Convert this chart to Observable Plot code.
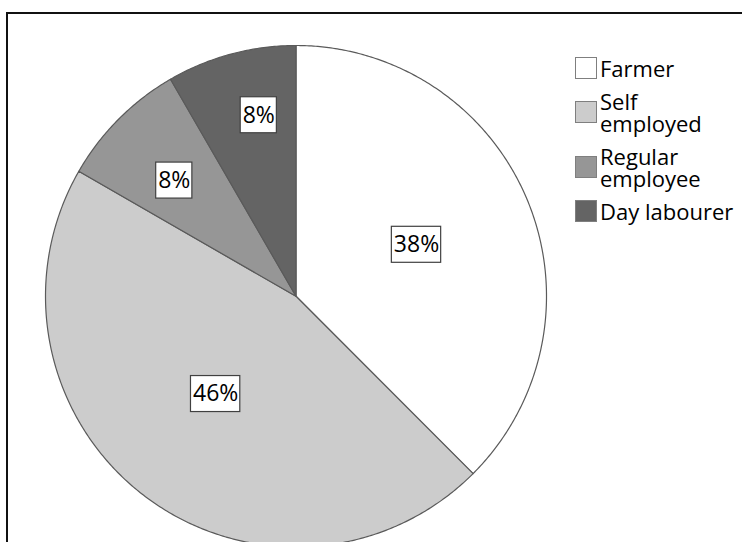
<!DOCTYPE html>
<html><head><meta charset="utf-8">
<script src="https://cdn.jsdelivr.net/npm/d3@7"></script>
<script src="https://cdn.jsdelivr.net/npm/@observablehq/plot@0.6"></script>
<style>
body{margin:0;background:#fff;}
#wrap{position:relative;width:742px;height:542px;overflow:hidden;font-family:"Open Sans",sans-serif;background:#fff;}
#frame{position:absolute;left:6px;top:12px;width:800px;height:600px;border-top:2px solid #111;border-left:2px solid #111;pointer-events:none;}
#chart{position:absolute;left:0;top:0;width:742px;height:542px;overflow:hidden;}
#legend{position:absolute;left:575px;top:57px;display:flex;flex-direction:column;gap:11px;font-size:22px;line-height:22px;color:#000;}
.item{display:flex;align-items:center;}
.sw{width:20px;height:20px;border:1px solid #7f7f7f;margin-right:3px;flex:none;}
.lab{white-space:pre-line;}
</style></head><body>
<div id="wrap"><div id="chart"></div><div id="frame"></div><div id="legend"></div></div>
<script>
// ---- data ----
const categories = ["Farmer", "Self employed", "Regular employee", "Day labourer"];
const shares = [37.5, 45.8, 8.35, 8.35];
const valueLabels = ["38%", "46%", "8%", "8%"];
const legendText = ["Farmer", "Self\nemployed", "Regular\nemployee", "Day labourer"];
const colors = ["#ffffff", "#cccccc", "#969696", "#646464"];

// ---- layout config (label placement, Excel "best fit" style) ----
const labelRadius = [0.523, 0.505, 0.67, 0.737];
const labelAngleShift = [-0.6, 2.0, -1.4, 3.4]; // degrees
const labelFont = "23px 'Open Sans'";

// ---- build slices via d3.pie ----
const arcs = d3.pie().sort(null).startAngle(0).endAngle(2 * Math.PI)(shares);
const pieRows = [];
arcs.forEach((a, i) => {
  const c = categories[i];
  pieRows.push({cat: c, x: 0, y: 0});
  const n = Math.max(2, Math.ceil((a.endAngle - a.startAngle) / (Math.PI / 360)));
  for (let k = 0; k <= n; k++) {
    const t = a.startAngle + (a.endAngle - a.startAngle) * k / n;
    pieRows.push({cat: c, x: Math.sin(t), y: Math.cos(t)});
  }
  pieRows.push({cat: c, x: 0, y: 0});
});

const labelRows = arcs.map((a, i) => {
  const mid = (a.startAngle + a.endAngle) / 2 + labelAngleShift[i] * Math.PI / 180;
  return {label: valueLabels[i], x: labelRadius[i] * Math.sin(mid), y: labelRadius[i] * Math.cos(mid)};
});

const ctx = document.createElement("canvas").getContext("2d");
ctx.font = labelFont;
const boxMarks = labelRows.map(d => {
  const w = ctx.measureText(d.label).width + 4;
  return Plot.rect([d], {
    x1: "x", x2: "x", y1: "y", y2: "y",
    insetLeft: -w / 2, insetRight: -w / 2, insetTop: -18, insetBottom: -18,
    fill: "white", stroke: "#404040", strokeWidth: 1.2
  });
});

const plot = Plot.plot({
  width: 742, height: 542, margin: 0,
  x: {domain: [-1, 1], range: [45, 546], axis: null},
  y: {domain: [-1, 1], range: [546.5, 45], axis: null},
  color: {domain: categories, range: colors},
  style: {background: "transparent", overflow: "hidden", fontFamily: "Open Sans"},
  marks: [
    Plot.line(pieRows, {x: "x", y: "y", z: "cat", fill: "cat", stroke: "#5a5a5a", strokeWidth: 1.2, strokeLinejoin: "round"}),
    ...boxMarks,
    Plot.text(labelRows, {x: "x", y: "y", text: "label", fontSize: 23, fill: "#000", fontFamily: "Open Sans"})
  ]
});
document.getElementById("chart").appendChild(plot);

// ---- legend ----
const legend = document.getElementById("legend");
categories.forEach((c, i) => {
  const item = document.createElement("div");
  item.className = "item";
  const sw = document.createElement("div");
  sw.className = "sw";
  sw.style.background = colors[i];
  const lab = document.createElement("div");
  lab.className = "lab";
  lab.textContent = legendText[i];
  item.appendChild(sw); item.appendChild(lab);
  legend.appendChild(item);
});
</script>
</body></html>
